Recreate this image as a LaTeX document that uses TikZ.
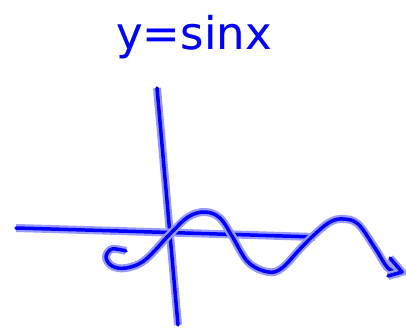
\documentclass[tikz,border=0pt]{standalone}
\usepackage{fontspec}
\usepackage[outline]{contour}
\setmainfont{DejaVu Sans}
\contourlength{2.2pt}

\begin{document}
\begin{tikzpicture}[x=1pt,y=-1pt,
  ink/.style={draw=blue,line width=3.5pt,line cap=round,line join=round,
              preaction={draw=blue!40,line width=8pt}},
  label/.style={font=\fontsize{45}{45}\selectfont,text=blue}
]
\useasboundingbox (0,0) rectangle (406,328);
% title
\node[label,anchor=base] (title) at (194,50) {\contour{blue!40}{y=sinx}};
% axes
\coordinate (ytop) at (157,88);
\coordinate (ybot) at (178,325);
\coordinate (xleft) at (16,228);
\coordinate (xright) at (315,237);
\draw[ink] (ytop) -- (ybot);
\draw[ink] (xleft) .. controls (120,231) .. (xright);
% curve
\draw[ink] plot[smooth,tension=0.6] coordinates {
  (126,251) (112,249) (106,257) (112,266) (126,268) (145,260) (170,234)
  (188,217) (205,212) (220,218) (232,236) (248,262) (268,272) (282,268)
  (300,249) (315,234) (330,222) (343,219) (358,224) (375,248) (388,268)
  (400,274)};
% arrow tip
\draw[ink] (390,258) -- (402,272) -- (388,276);
\end{tikzpicture}
\end{document}
